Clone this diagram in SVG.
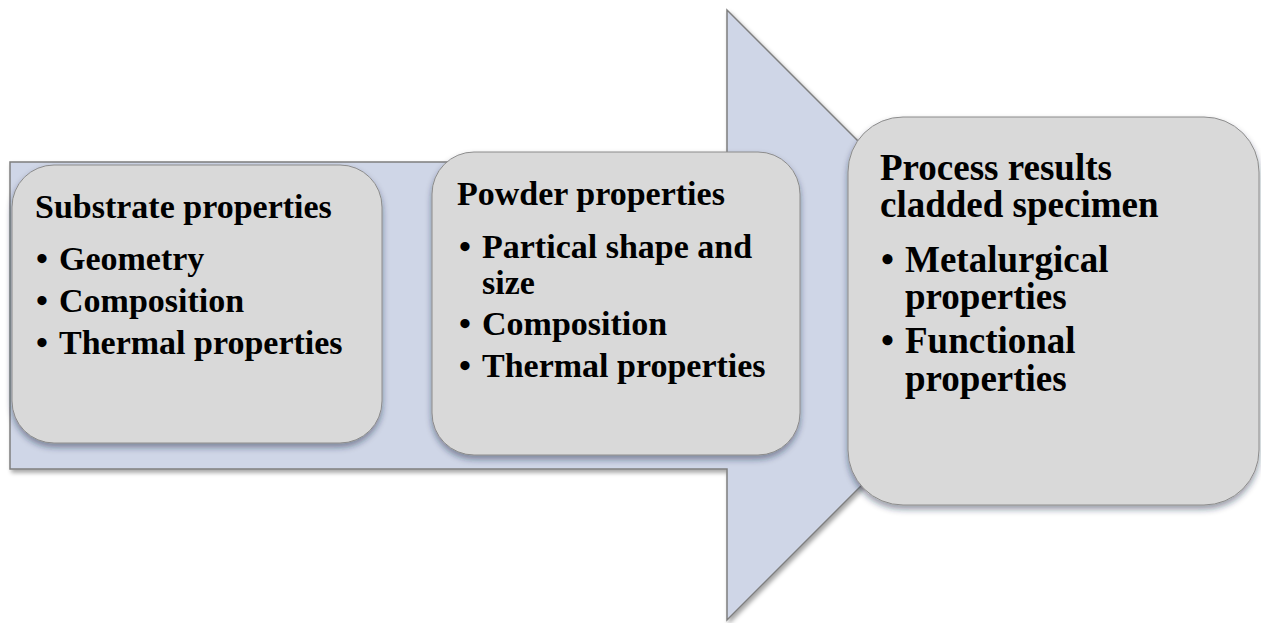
<svg xmlns="http://www.w3.org/2000/svg" width="1261" height="623" viewBox="0 0 1261 623">
<defs>
<filter id="arrowShadow" x="-5%" y="-5%" width="110%" height="110%">
<feDropShadow dx="2" dy="3" stdDeviation="2" flood-color="#000" flood-opacity="0.35"/>
</filter>
<filter id="boxShadow" x="-5%" y="-5%" width="110%" height="115%">
<feDropShadow dx="0" dy="4" stdDeviation="3" flood-color="#1a2540" flood-opacity="0.45"/>
</filter>
</defs>
<style>
.arrow{fill:#cfd6e7;stroke:#7f7f7f;stroke-width:1.5}
.box{fill:#d9d9d9;stroke:#8c8c8c;stroke-width:1}
.t{font-family:"Liberation Serif","Times New Roman",serif;font-weight:bold;fill:#000}
.s34{font-size:34px}
.s37{font-size:37px}
</style>
<rect width="1261" height="623" fill="#fff"/>
<g id="arrow">
<path class="arrow" filter="url(#arrowShadow)" d="M10,162 L727,162 L727,10 L1032,315 L727,620 L727,469 L10,469 Z"/>
</g>
<g id="connectors"></g>
<g id="substrate">
<rect class="box" filter="url(#boxShadow)" x="12" y="165" width="370" height="278" rx="42" ry="42"/>
<text class="t s34" x="35" y="218">Substrate properties</text>
<text class="t s34" x="36" y="270">•</text><text class="t s34" x="59" y="270">Geometry</text>
<text class="t s34" x="36" y="312">•</text><text class="t s34" x="59" y="312">Composition</text>
<text class="t s34" x="36" y="354">•</text><text class="t s34" x="59" y="354">Thermal properties</text>
</g>
<g id="powder">
<rect class="box" filter="url(#boxShadow)" x="432" y="152" width="368" height="303" rx="42" ry="42"/>
<text class="t s34" x="457" y="205">Powder properties</text>
<text class="t s34" x="459" y="258">•</text><text class="t s34" x="482" y="258">Partical shape and</text>
<text class="t s34" x="482" y="294">size</text>
<text class="t s34" x="459" y="335">•</text><text class="t s34" x="482" y="335">Composition</text>
<text class="t s34" x="459" y="377">•</text><text class="t s34" x="482" y="377">Thermal properties</text>
</g>
<g id="results">
<rect class="box" filter="url(#boxShadow)" x="848" y="117" width="411" height="388" rx="55" ry="55"/>
<text class="t s37" x="880" y="180">Process results</text>
<text class="t s37" x="880" y="217">cladded specimen</text>
<text class="t s37" x="881" y="272">•</text><text class="t s37" x="905" y="272">Metalurgical</text>
<text class="t s37" x="905" y="309">properties</text>
<text class="t s37" x="881" y="353">•</text><text class="t s37" x="905" y="353">Functional</text>
<text class="t s37" x="905" y="391">properties</text>
</g>
</svg>
